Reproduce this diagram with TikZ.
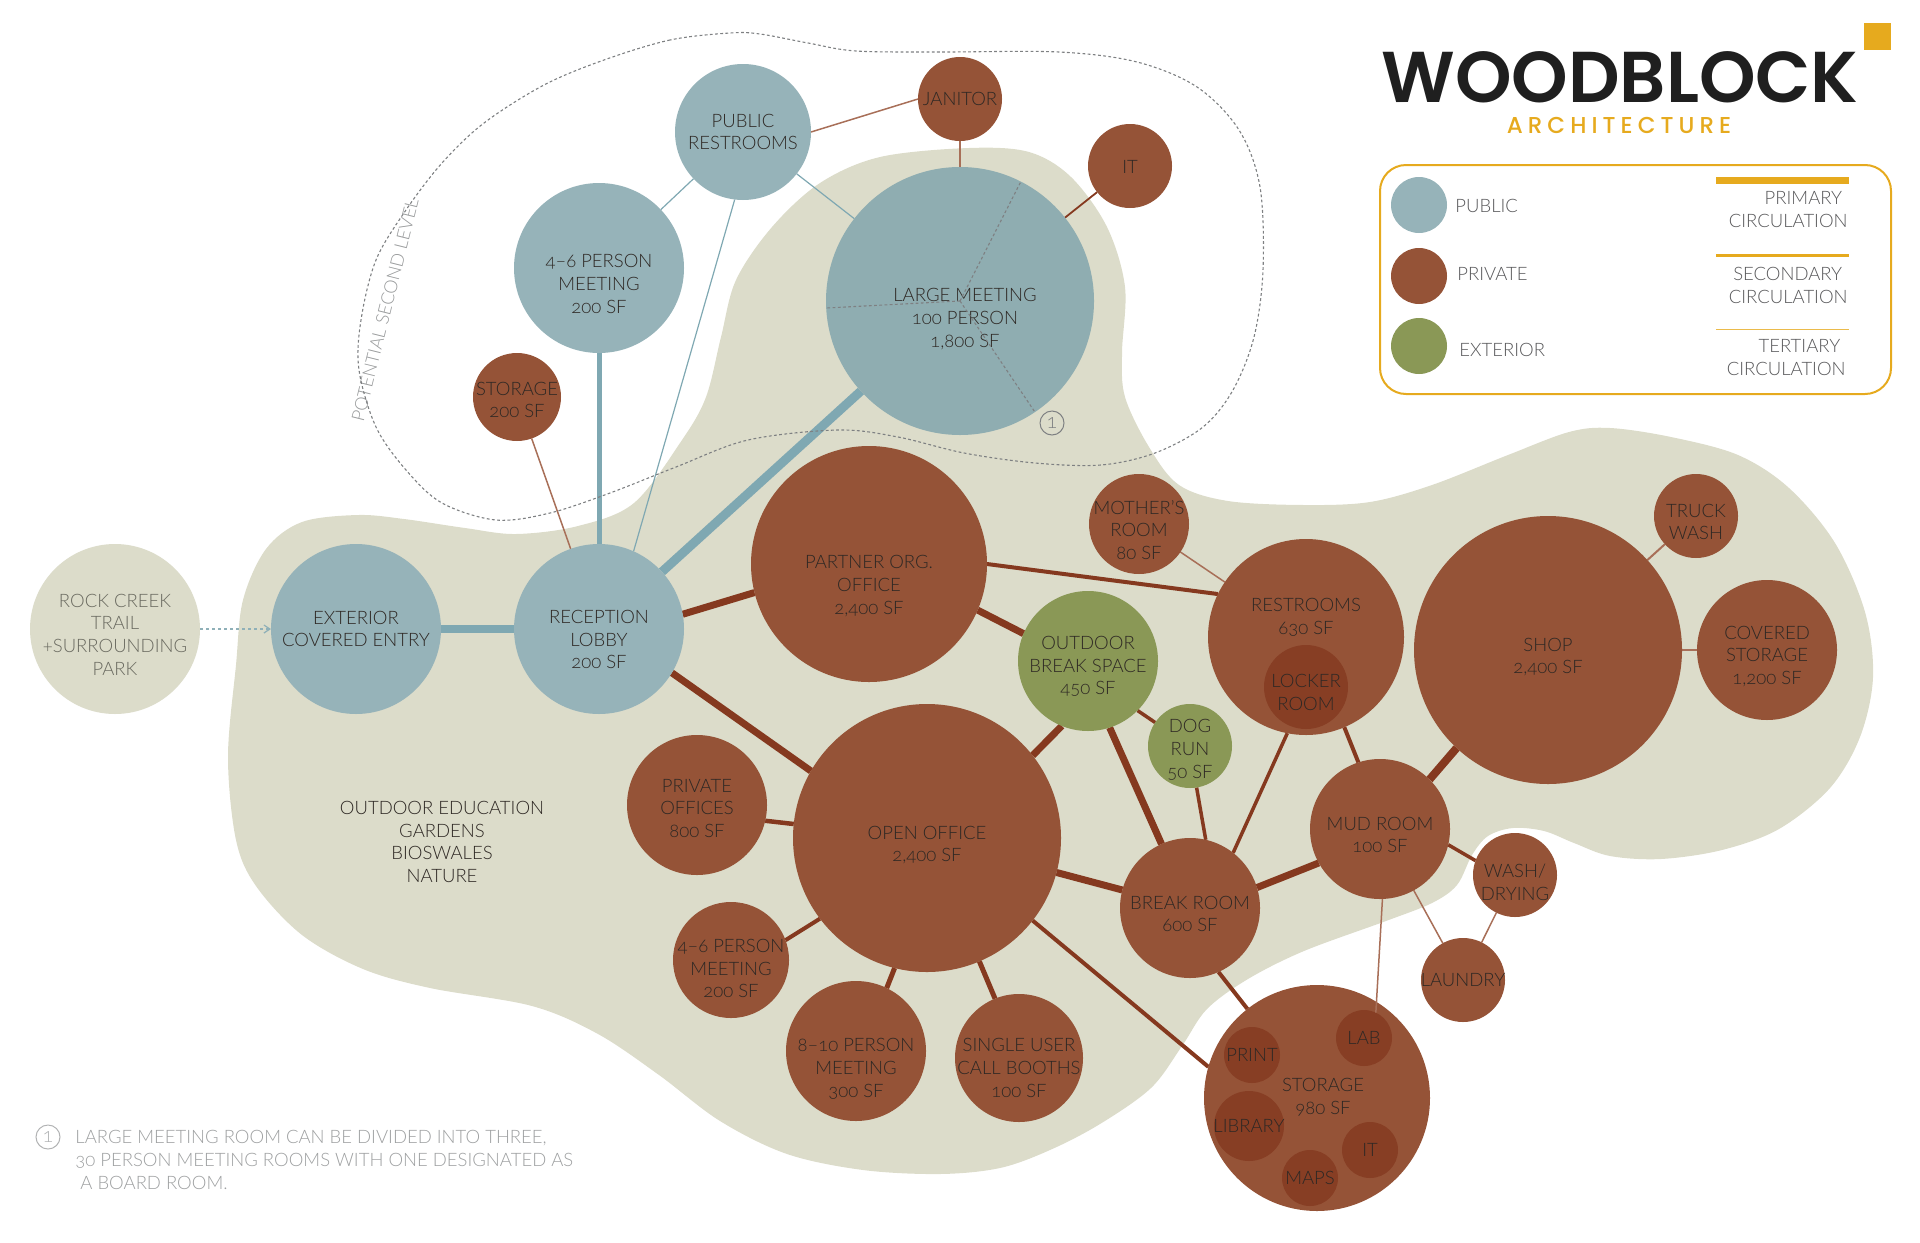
\documentclass[tikz,border=0pt]{standalone}
\usepackage{fontspec}
\setmainfont{Lato}[UprightFont=*-Light,Numbers=OldStyle]
\newfontfamily\logofont{Poppins}[UprightFont=*-SemiBold]
\newfontfamily\logotwo{Poppins}[UprightFont=*-Medium,LetterSpace=22]
\usetikzlibrary{arrows.meta}
\pgfdeclarelayer{blob}\pgfdeclarelayer{edges}\pgfdeclarelayer{top}
\pgfsetlayers{blob,edges,main,top}
\definecolor{pub}{HTML}{96B3B9}
\definecolor{pubL}{HTML}{8FADB1}
\definecolor{pubE}{HTML}{7FA8B2}
\definecolor{prv}{HTML}{955337}
\definecolor{prvI}{HTML}{873E24}
\definecolor{prvE}{HTML}{85391F}
\definecolor{prvT}{HTML}{A86F58}
\definecolor{ext}{HTML}{8A9856}
\definecolor{sand}{HTML}{DCDCCA}
\definecolor{gold}{HTML}{E6AA1E}
\definecolor{ink}{HTML}{2E2824}
\definecolor{sandtxt}{HTML}{6A6A60}
\definecolor{leg}{HTML}{58585A}
\definecolor{dashc}{HTML}{7E8082}
\definecolor{flow}{HTML}{8FB0B8}
\tikzset{
 room/.style={circle,inner sep=0pt,outer sep=0pt,minimum size=#1*0.5pt},
 pubroom/.style={room=#1,fill=pub},
 prvroom/.style={room=#1,fill=prv},
 inroom/.style={room=#1,fill=prvI},
 extroom/.style={room=#1,fill=ext},
 sandroom/.style={room=#1,fill=sand},
 roomtext/.style={align=center,inner sep=0pt,text=ink,font=\fontsize{9.25}{11.35}\selectfont},
 pubA/.style={draw=pubE,line width=#1*0.5pt},
 prvA/.style={draw=prvE,line width=#1*0.5pt},
 prvThin/.style={draw=prvT,line width=#1*0.5pt},
 plain/.style={align=center,inner sep=0pt,text=leg,font=\fontsize{9.25}{11.35}\selectfont},
 legdot/.style={circle,inner sep=0pt,minimum size=28pt},
 divide/.style={draw=dashc,line width=0.55pt,dash pattern=on 1.4pt off 1.2pt},
 marker/.style={circle,draw=dashc,line width=0.5pt,inner sep=0pt,minimum size=#1*0.5pt,text=dashc,font=\fontsize{10}{10}\selectfont},
}
% \roomat{style}{name}{x}{y}{dx}{dy}{text}
\newcommand\roomat[7]{%
 \node[#1] (#2) at (#3,#4) {};
 \node[roomtext] (#2-t) at ({#3+#5},{#4+#6}) {#7};}
\begin{document}
\begin{tikzpicture}[x=0.5pt,y=-0.5pt]
\useasboundingbox (0,0) rectangle (1920,1242);
% site blob
\begin{pgfonlayer}{blob}
\fill[sand] plot[smooth cycle,tension=0.55] coordinates {
(969,148)(1029,152)(1071,177)(1107,227)(1125,287)(1122,353)(1125,397)(1149,447)(1179,485)(1228,501)(1304,505)(1370,502)(1432,485)(1508,455)(1569,432)(1610,428)(1671,437)(1738,455)(1789,488)(1835,543)(1865,612)(1873,677)(1860,737)(1830,788)(1779,829)(1722,850)(1661,859)(1610,856)(1574,843)(1544,831)(1513,828)(1488,836)(1472,855)(1457,885)(1432,903)(1386,921)(1304,951)(1248,979)(1207,1009)(1182,1046)(1151,1088)(1100,1124)(1050,1150)(1000,1168)(940,1174)(863,1170)(787,1154)(720,1121)(659,1075)(598,1034)(532,1006)(430,988)(363,969)(302,935)(256,886)(236,840)(228,757)(236,665)(243,600)(266,549)(302,522)(358,515)(404,519)(465,528)(516,534)(578,526)(634,503)(682,440)(706,397)(721,337)(736,280)(772,227)(820,183)(880,157)};
\end{pgfonlayer}
% rooms
\roomat{sandroom=170}{park}{115}{629}{0}{5.5}{\textcolor{sandtxt}{ROCK CREEK}\\\textcolor{sandtxt}{TRAIL}\\\textcolor{sandtxt}{+SURROUNDING}\\\textcolor{sandtxt}{PARK}}
\roomat{pubroom=170}{entry}{356}{629}{0}{0}{EXTERIOR\\COVERED ENTRY}
\roomat{pubroom=170}{lobby}{599}{629}{0}{10.5}{RECEPTION\\LOBBY\\200 SF}
\roomat{pubroom=170}{meetA}{599}{268}{0}{16}{4–6 PERSON\\MEETING\\200 SF}
\roomat{pubroom=136}{pubrest}{743}{132}{0}{0}{PUBLIC\\RESTROOMS}
\roomat{prvroom=84}{janitor}{960}{99}{0}{0}{JANITOR}
\roomat{prvroom=84}{itA}{1130}{166}{0}{1}{IT}
\roomat{room=268,fill=pubL}{large}{960}{301}{5}{18}{LARGE MEETING\\100 PERSON\\1,800 SF}
\roomat{prvroom=88}{storeA}{517}{397}{0}{3}{STORAGE\\200 SF}
\roomat{prvroom=236}{partner}{869}{564}{0}{22}{PARTNER ORG.\\OFFICE\\2,400 SF}
\roomat{extroom=140}{outdoor}{1088}{661}{0}{5.5}{OUTDOOR\\BREAK SPACE\\450 SF}
\roomat{extroom=84}{dog}{1190}{746}{0}{4}{DOG\\RUN\\50 SF}
\roomat{prvroom=100}{mother}{1139}{524}{0}{6}{MOTHER'S\\ROOM\\80 SF}
\roomat{prvroom=196}{rest}{1306}{637}{0}{-20}{RESTROOMS\\630 SF}
\roomat{inroom=84}{locker}{1306}{687}{0}{5.5}{LOCKER\\ROOM}
\roomat{prvroom=268}{shop}{1548}{650}{0}{7}{SHOP\\2,400 SF}
\roomat{prvroom=84}{truck}{1696}{516}{0}{6}{TRUCK\\WASH}
\roomat{prvroom=140}{covered}{1767}{650}{0}{6.5}{COVERED\\STORAGE\\1,200 SF}
\roomat{prvroom=140}{mud}{1380}{829}{0}{6}{MUD ROOM\\100 SF}
\roomat{prvroom=84}{wash}{1515}{875}{0}{7}{WASH/\\DRYING}
\roomat{prvroom=84}{laundry}{1463}{980}{0}{0}{LAUNDRY}
\roomat{prvroom=140}{brk}{1190}{908}{0}{6}{BREAK ROOM\\600 SF}
\roomat{prvroom=268}{open}{927}{838}{0}{7}{OPEN OFFICE\\2,400 SF}
\roomat{prvroom=140}{offices}{697}{805}{0}{3.5}{PRIVATE\\OFFICES\\800 SF}
\roomat{prvroom=116}{meetB}{731}{960}{0}{8.5}{4–6 PERSON\\MEETING\\200 SF}
\roomat{prvroom=140}{meetC}{856}{1051}{0}{18}{8–10 PERSON\\MEETING\\300 SF}
\roomat{prvroom=128}{booth}{1019}{1058}{0}{10}{SINGLE USER\\CALL BOOTHS\\100 SF}
\roomat{prvroom=226}{store}{1317}{1098}{6}{-1}{STORAGE\\980 SF}
\roomat{inroom=56}{lab}{1364}{1038}{0}{0}{LAB}
\roomat{inroom=56}{print}{1252}{1055}{0}{0}{PRINT}
\roomat{inroom=70}{library}{1249}{1126}{0}{0}{LIBRARY}
\roomat{inroom=56}{maps}{1310}{1178}{0}{0}{MAPS}
\roomat{inroom=56}{itB}{1370}{1150}{0}{0}{IT}
% connectors
\begin{pgfonlayer}{edges}
\path[pubA=8] (entry) -- (lobby);
\path[pubA=5] (lobby) -- (meetA);
\path[pubA=9] (lobby) -- (large);
\path[pubA=1.2] (pubrest) -- (meetA);
\path[pubA=1.2] (pubrest) -- (large);
\path[pubA=1.2] (pubrest.263) -- (lobby.66);
\path[prvThin=1.5] (pubrest.0) -- (janitor.180);
\path[prvThin=2.5] (janitor) -- (large);
\path[prvA=1.8] (itA) -- (large);
\path[prvThin=1.5] (storeA) -- (lobby);
\path[prvA=7] (lobby.10) -- (partner.194);
\path[prvA=7] (lobby.-31.6) -- (open.150);
\path[prvA=4] (partner.0) -- (rest.154);
\path[prvA=7] (partner.-23.4) -- (outdoor.157);
\path[prvA=7] (outdoor.248.5) -- (open.38.3);
\path[prvA=7] (outdoor.-72.3) -- (brk.114.7);
\path[prvA=3.5] (outdoor.-45) -- (dog.146.7);
\path[prvA=3.5] (dog.-81) -- (brk.77.4);
\path[prvA=7] (open) -- (brk);
\path[prvA=7] (brk.17) -- (mud.209);
\path[prvA=3.5] (rest.259) -- (brk.52.6);
\path[prvA=4] (rest.-67.8) -- (mud.108);
\path[prvA=8] (mud.45.6) -- (shop.227.7);
\path[prvA=3.5] (mud.-13.8) -- (wash.160);
\path[prvThin=1.5] (mud) -- (laundry);
\path[prvThin=1.5] (wash) -- (laundry);
\path[prvA=4] (brk.-66) -- (store.128.4);
\path[prvA=4] (open.-38.4) -- (store.164);
\path[prvA=4.5] (open.174.5) -- (offices.-13);
\path[prvA=4] (open.217) -- (meetB.20.6);
\path[prvA=5] (open.256.5) -- (meetC.64.5);
\path[prvA=5] (open.-67) -- (booth.112.8);
\path[prvThin=1.5] (mother) -- (rest);
\path[prvThin=2] (shop) -- (truck);
\path[prvThin=2] (shop) -- (covered);
\draw[flow,line width=0.6pt,dash pattern=on 1.5pt off 1.5pt,-{Straight Barb[length=3pt,width=4pt]}] (park) -- (entry);
\end{pgfonlayer}
% overlays
\begin{pgfonlayer}{top}
\path[prvThin=1.5] (mud.-88) -- (lab.65);
\draw[divide] plot[smooth cycle,tension=0.55] coordinates {
(730,33)(670,40)(604,60)(544,85)(484,123)(442,163)(406,210)(376,260)(361,320)(359,370)(376,427)(406,470)(442,503)(496,520)(550,513)(610,493)(676,467)(748,440)(838,430)(898,437)(964,453)(1035,463)(1101,465)(1155,453)(1203,427)(1233,390)(1254,337)(1263,270)(1260,187)(1239,130)(1197,87)(1137,62)(1059,52)(940,52)(856,51)(808,43)(760,34)};
\path[divide] (large.center) -- (large.63.6);
\path[divide] (large.center) -- (large.183.4);
\path[divide] (large.center) -- (large.-56);
\node[marker=24] (markA) at (1052,423) {1};
\end{pgfonlayer}
\node[text=dashc!80,rotate=76,font=\fontsize{9}{11}\selectfont,inner sep=0pt] (second) at (385,310) {POTENTIAL SECOND LEVEL};
\node[plain,text=ink] (outdoored) at (442,842) {OUTDOOR EDUCATION\\GARDENS\\BIOSWALES\\NATURE};
% footnote
\node[marker=24,draw=dashc!60,text=dashc!60] (markB) at (48,1137) {1};
\node[plain,anchor=north west,align=left,text=dashc!75] (note) at (75,1130) {LARGE MEETING ROOM CAN BE DIVIDED INTO THREE,\\30 PERSON MEETING ROOMS WITH ONE DESIGNATED AS\\\hspace*{2.5pt}A BOARD ROOM.};
% logo
\fill[gold] (1864,23) rectangle (1891,50);
\node[inner sep=0pt,anchor=west,text=black!88,font=\logofont\fontsize{36}{36}\selectfont] (wood) at (1381,77) {WOODBLOCK};
\node[inner sep=0pt,anchor=center,text=gold,font=\logotwo\fontsize{11.5}{12}\selectfont] (arch) at (1619,125) {ARCHITECTURE};
% legend
\draw[gold,line width=1pt,rounded corners=13pt] (1380,165) rectangle (1891,394);
\node[legdot,fill=pub] (lgA) at (1419,205) {};
\node[legdot,fill=prv] (lgB) at (1419,276) {};
\node[legdot,fill=ext] (lgC) at (1419,346) {};
\node[plain,anchor=west] (ltA) at (1455,206) {PUBLIC};
\node[plain,anchor=west] (ltB) at (1457,274) {PRIVATE};
\node[plain,anchor=west] (ltC) at (1459,350) {EXTERIOR};
\fill[gold] (1716,177) rectangle (1849,184);
\fill[gold] (1716,254) rectangle (1849,257);
\fill[gold!80] (1716,329) rectangle (1849,330);
\node[plain,anchor=north east,align=right] (lrA) at (1848,191) {PRIMARY\hspace*{2.7pt}\\CIRCULATION};
\node[plain,anchor=north east,align=right] (lrB) at (1848,267) {SECONDARY\hspace*{2.7pt}\\CIRCULATION};
\node[plain,anchor=north east,align=right] (lrC) at (1846,339) {TERTIARY\hspace*{2.7pt}\\CIRCULATION};
\end{tikzpicture}
\end{document}
